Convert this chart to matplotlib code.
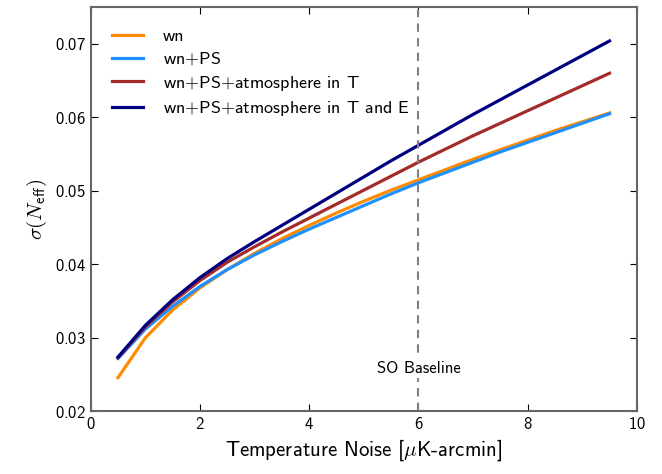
import numpy as np
import matplotlib
matplotlib.use("Agg")
import matplotlib.pyplot as plt

plt.rcParams.update({
    "font.family": ["cmss10", "DejaVu Sans"],
    "mathtext.fontset": "cm",
    "axes.unicode_minus": False,
    "axes.formatter.use_mathtext": True,
    "font.size": 12,
    "axes.edgecolor": "#666666",
    "axes.linewidth": 1.5,
    "xtick.direction": "in",
    "ytick.direction": "in",
    "xtick.top": True,
    "ytick.right": True,
    "xtick.major.size": 5,
    "ytick.major.size": 5,
})

# noise levels [uK-arcmin]
noise = [0.5, 1.0, 1.5, 2.0, 2.5, 3.0, 3.5, 4.0, 4.5, 5.0,
         5.5, 6.0, 6.5, 7.0, 7.5, 8.0, 8.5, 9.0, 9.5]

sig_wn = [0.0246, 0.0300, 0.0338, 0.0368, 0.0393, 0.0415, 0.0435, 0.0453, 0.0470, 0.0486,
          0.0501, 0.0515, 0.0529, 0.0543, 0.0556, 0.0569, 0.0582, 0.0594, 0.0606]
sig_wn_ps = [0.0272, 0.0312, 0.0343, 0.0370, 0.0393, 0.0413, 0.0431, 0.0448, 0.0464, 0.0480,
             0.0496, 0.0511, 0.0525, 0.0539, 0.0553, 0.0566, 0.0579, 0.0592, 0.0605]
sig_atm_T = [0.0273, 0.0315, 0.0349, 0.0378, 0.0403, 0.0424, 0.0444, 0.0463, 0.0482, 0.0501,
             0.0520, 0.0539, 0.0557, 0.0575, 0.0592, 0.0609, 0.0626, 0.0643, 0.0660]
sig_atm_TE = [0.0274, 0.0317, 0.0352, 0.0382, 0.0408, 0.0431, 0.0453, 0.0475, 0.0497, 0.0519,
              0.0541, 0.0562, 0.0583, 0.0604, 0.0624, 0.0644, 0.0664, 0.0684, 0.0704]

labels = ["wn", "wn$+$PS", "wn$+$PS$+$atmosphere in T", "wn$+$PS$+$atmosphere in T and E"]
colors = ["darkorange", "dodgerblue", "brown", "navy"]
baseline = 6

fig = plt.figure(figsize=(6.62, 4.74), dpi=100)
ax = fig.add_axes([0.137, 0.132, 0.825, 0.853])

for y, lab, c in zip([sig_wn, sig_wn_ps, sig_atm_T, sig_atm_TE], labels, colors):
    ax.plot(noise, y, color=c, lw=2.3, label=lab)

ax.axvline(baseline, color="gray", ls="--", lw=1.5, dashes=(4, 3))
ax.text(baseline, 0.0258, "SO Baseline", ha="center", va="center", fontsize=12,
        bbox=dict(facecolor="white", edgecolor="none", pad=1.5))

ax.set_xlim(0, 10)
ax.set_ylim(0.02, 0.075)
ax.set_xticks([0, 2, 4, 6, 8, 10])
ax.set_yticks([0.02, 0.03, 0.04, 0.05, 0.06, 0.07])
ax.set_xlabel(r"Temperature Noise [$\mu$K-arcmin]", fontsize=15)
ax.set_ylabel(r"$\sigma(N_{\mathsf{eff}})$", fontsize=15)

ax.legend(loc="upper left", frameon=False, fontsize=13, handlelength=1.7,
          handletextpad=1.1, labelspacing=0.35, borderaxespad=0.8)

fig.savefig("out.png", dpi=100)
